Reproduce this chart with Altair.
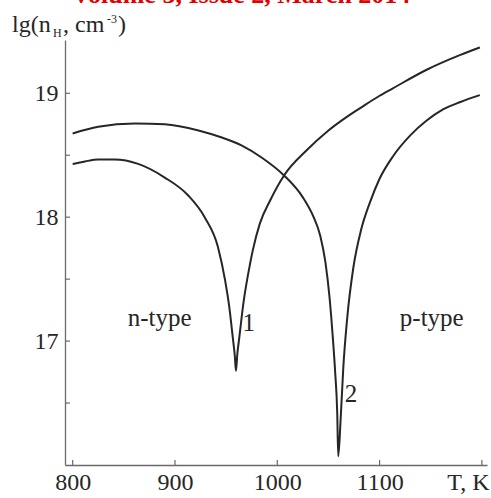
import altair as alt
import pandas as pd

# Curve 1: Hall concentration vs temperature (sign change near 960 K)
T1 = [800, 812, 825, 841, 864, 890, 913, 929, 942, 949, 953, 956.5, 958.5, 959.6,
      961, 962.9, 966.8, 973.3, 976, 983, 993, 1006.6, 1028.7, 1050, 1068, 1081,
      1100, 1113, 1146, 1179, 1198]
N1 = [18.43, 18.45, 18.465, 18.465, 18.43, 18.32, 18.175, 18.0, 17.76, 17.49, 17.28,
      17.03, 16.88, 16.76, 16.90, 17.03, 17.30, 17.62, 17.73, 17.95, 18.135, 18.337,
      18.54, 18.70, 18.81, 18.88, 18.98, 19.04, 19.19, 19.31, 19.37]

# Curve 2: sign change near 1060 K
T2 = [800, 825, 861, 890, 923, 945, 965, 985, 1006.6, 1025, 1035, 1042, 1047, 1051,
      1054, 1056.5, 1058.6, 1059.6, 1062, 1064.5, 1068.4, 1074.3, 1082, 1090.6, 1100,
      1113, 1130, 1146, 1162, 1179, 1198]
N2 = [18.676, 18.73, 18.757, 18.75, 18.70, 18.645, 18.58, 18.48, 18.337, 18.16, 18.01,
      17.85, 17.64, 17.36, 17.06, 16.76, 16.42, 16.07, 16.38, 16.78, 17.19, 17.59,
      17.90, 18.12, 18.31, 18.49, 18.66, 18.78, 18.87, 18.93, 18.985]

x_ticks = [800, 900, 1000, 1100, 1200]
y_major = [17, 18, 19]
y_minor = [16.5, 17.5, 18.5]

# Region and curve labels placed in data coordinates
ann_text = ["n-type", "p-type", "1", "2"]
ann_T = [885, 1151, 972, 1072]
ann_n = [17.12, 17.12, 17.08, 16.51]

W, H = 422, 425
FONT = "Liberation Serif"
INK = "#262626"
AXIS = "#6a6a6a"

curves = pd.concat([
    pd.DataFrame({"T": T1, "n": N1, "curve": "1"}),
    pd.DataFrame({"T": T2, "n": N2, "curve": "2"}),
])

xscale = alt.Scale(domain=[792.5, 1205], nice=False, zero=False)
yscale = alt.Scale(domain=[16, 19.43], nice=False, zero=False)

x_axis = alt.Axis(
    values=x_ticks, ticks=False, grid=False, title=None, format="d",
    labelFont=FONT, labelFontSize=24, labelColor=INK, labelPadding=5,
    labelFlush=False,
    labelExpr="datum.value == 1200 ? 'T, K' : datum.label",
    labelOffset={"condition": {"test": "datum.value == 1200", "value": -14}, "value": 0},
    domainColor=AXIS, domainWidth=1.3,
)
y_axis = alt.Axis(
    values=y_major, ticks=False, grid=False, title=None, format="d",
    labelFont=FONT, labelFontSize=24, labelColor=INK, labelPadding=7,
    domainColor=AXIS, domainWidth=1.3,
)

lines = alt.Chart(curves).mark_line(
    color=INK, strokeWidth=2, interpolate="monotone"
).encode(
    x=alt.X("T:Q", scale=xscale, axis=x_axis),
    y=alt.Y("n:Q", scale=yscale, axis=y_axis),
    detail="curve:N",
)

# Inward-pointing ticks
xtick_rules = alt.Chart(pd.DataFrame({"T": x_ticks})).mark_rule(
    color=AXIS, strokeWidth=1.2
).encode(x="T:Q", y=alt.value(H), y2=alt.value(H - 5))

ytick_rules = alt.Chart(pd.DataFrame({"n": y_major + y_minor})).mark_rule(
    color=AXIS, strokeWidth=1.2
).encode(y="n:Q", x=alt.value(0), x2=alt.value(5))

annotations = alt.Chart(pd.DataFrame({"T": ann_T, "n": ann_n, "label": ann_text})).mark_text(
    font=FONT, fontSize=25, color=INK, align="center", baseline="alphabetic"
).encode(x="T:Q", y="n:Q", text="label:N")

# Y-axis title lg(n_H, cm^-3) built from pieces for the sub/superscript
title_parts = pd.DataFrame({
    "txt": ["lg(n", "H", ", cm", "-3", ")"],
    "px": [-53, -12, -2, 42, 53],
    "py": [-8, -3, -8, -17, -8],
    "size": [24, 12, 24, 12, 24],
})
ytitle = alt.Chart(title_parts).mark_text(
    font=FONT, color=INK, align="left", baseline="alphabetic"
).encode(
    x=alt.X("px:Q", scale=None),
    y=alt.Y("py:Q", scale=None),
    text="txt:N",
    size=alt.Size("size:Q", scale=None, legend=None),
)

# Journal running header at the very top edge
header = alt.Chart(pd.DataFrame({"t": ["Volume 3, Issue 2, March 2014"]})).mark_text(
    font=FONT, fontSize=26, fontWeight="bold", color="#e00000",
    align="center", baseline="alphabetic"
).encode(x=alt.value(176), y=alt.value(-37), text="t:N")

chart = alt.layer(lines, xtick_rules, ytick_rules, annotations, ytitle, header).properties(
    width=W, height=H,
    autosize=alt.AutoSizeParams(type="none"),
    padding={"left": 65, "top": 40, "right": 4, "bottom": 33},
    background="white",
).configure_view(
    stroke=None
).configure_axis(
    labelFont=FONT, labelFontSize=24, labelColor=INK
).configure_text(
    font=FONT
)

chart.save("out.html", embed_options={"renderer": "svg", "actions": False})
